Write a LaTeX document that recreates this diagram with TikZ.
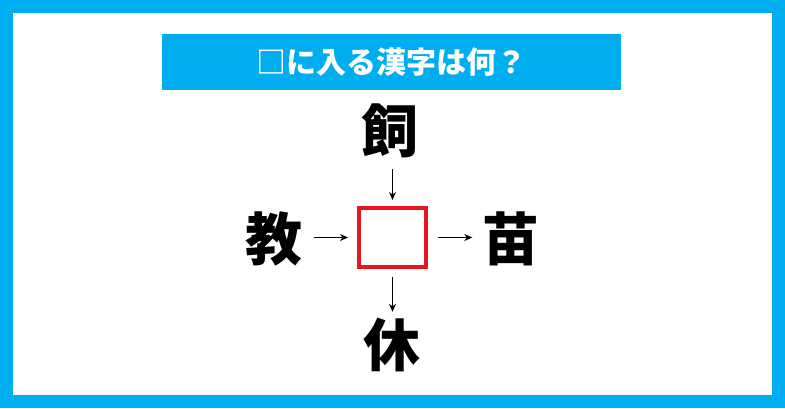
\documentclass[tikz,border=0pt]{standalone}
\usepackage{fontspec}
\setmainfont{Noto Sans CJK JP}
\usetikzlibrary{arrows.meta}
\definecolor{frameblue}{HTML}{00AEEF}
\definecolor{boxred}{HTML}{E8141E}
\begin{document}
\begin{tikzpicture}[x=1pt,y=1pt,
  kanji/.style={inner sep=0pt, minimum width=56pt, text height=49pt, text depth=7pt,
    font=\fontsize{57pt}{60pt}\selectfont\bfseries},
  arr/.style={line width=1.6pt, -{Stealth[length=8pt,width=7pt]}},
  title/.style={text=white, font=\fontsize{30pt}{33pt}\selectfont\bfseries, inner sep=0pt}]
\useasboundingbox (0,0) rectangle (785,408);
% frame
\fill[frameblue] (0,0) rectangle (785,408);
\fill[white] (13,13) rectangle (772,395);
% banner
\node[fill=frameblue, minimum width=459pt, minimum height=56pt, inner sep=0pt] (banner) at (391.5,346) {};
\node[title] (ttl) at (391.5,346) {□に入る漢字は何？};
% characters
\node[kanji] (top) at (390,277) {飼};
\node[kanji] (left) at (274,169) {教};
\node[kanji] (right) at (511,169) {苗};
\node[kanji] (bot) at (392,63) {休};
% box
\node[draw=boxred, line width=4pt, minimum width=67pt, minimum height=59pt, inner sep=0pt] (box) at (392.5,170.5) {};
% arrows
\draw[arr, shorten <=10pt, shorten >=6pt] (top.south -| box.north) -- (box.north);
\draw[arr, shorten <=11pt, shorten >=9pt] (left.east |- box.west) -- (box.west);
\draw[arr, shorten <=10pt, shorten >=10pt] (box.east) -- (right.west |- box.east);
\draw[arr, shorten <=8pt, shorten >=5pt] (box.south) -- (bot.north -| box.south);
\end{tikzpicture}
\end{document}
